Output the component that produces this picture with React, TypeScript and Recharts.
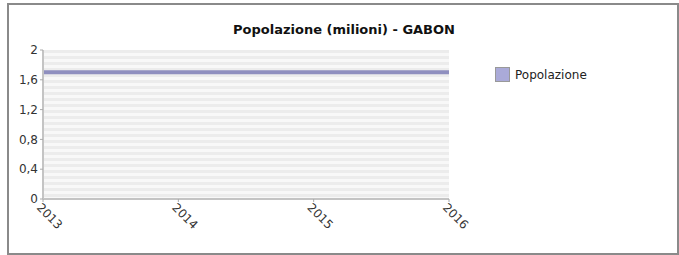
import { LineChart, Line, XAxis, YAxis, CartesianGrid } from 'recharts';

const years = [2013, 2014, 2015, 2016];
const popolazione = [1.7, 1.7, 1.7, 1.7];
const yTicks = [0, 0.4, 0.8, 1.2, 1.6, 2];

const data = years.map((anno, i) => ({ anno, popolazione: popolazione[i] }));

const FONT = '"DejaVu Sans", sans-serif';

// stripes behind the plot, one every 3px
const stripes = ({ offset }: any) => {
  const pts: number[] = [];
  for (let y = offset.top; y <= offset.top + offset.height; y += 3) pts.push(y);
  return pts;
};

const fmt = (v: number) => String(v).replace('.', ',');

const XTick = ({ x, y, payload }: any) => (
  <text
    x={x}
    y={y}
    transform={`rotate(45, ${x}, ${y})`}
    dx={-2}
    dy={8}
    textAnchor="start"
    fontSize={12}
    fontFamily={FONT}
    fill="#333"
  >
    {payload.value}
  </text>
);

export default function App() {
  return (
    <div style={{ position: 'absolute', left: 0, top: 0, width: 679, height: 255, background: '#fff' }}>
      <div
        style={{
          position: 'absolute',
          left: 7,
          top: 3,
          width: 668,
          height: 248,
          border: '2px solid #8a8a8a',
        }}
      />
      <div
        style={{
          position: 'absolute',
          left: 44,
          width: 600,
          top: 22,
          textAlign: 'center',
          fontFamily: FONT,
          fontWeight: 'bold',
          fontSize: 13,
          color: '#111',
        }}
      >
        Popolazione (milioni) - GABON
      </div>
      <div
        style={{
          position: 'absolute',
          left: 495,
          top: 67,
          display: 'flex',
          alignItems: 'center',
          fontFamily: FONT,
          fontSize: 12,
          color: '#222',
        }}
      >
        <span
          style={{
            display: 'inline-block',
            width: 13,
            height: 13,
            background: '#aaaad8',
            border: '1px solid #999',
            marginRight: 5,
          }}
        />
        Popolazione
      </div>
      <div style={{ position: 'absolute', left: 0, top: 0 }}>
        <LineChart width={679} height={255} data={data} margin={{ top: 50, right: 230, bottom: 0, left: 0 }}>
          <CartesianGrid
            vertical={false}
            horizontalCoordinatesGenerator={stripes}
            horizontalFill={['#ececec', '#f8f8f8']}
            stroke="none"
          />
          <XAxis
            dataKey="anno"
            type="number"
            domain={[2013, 2016]}
            ticks={years}
            height={56}
            tick={<XTick />}
            tickSize={3}
            axisLine={{ stroke: '#c4c4c4', strokeWidth: 2 }}
            tickLine={{ stroke: '#aaa' }}
          />
          <YAxis
            domain={[0, 2]}
            ticks={yTicks}
            width={43}
            tickFormatter={fmt}
            tickSize={3}
            tick={{ fontSize: 12, fontFamily: FONT, fill: '#333' }}
            axisLine={{ stroke: '#c4c4c4', strokeWidth: 2 }}
            tickLine={{ stroke: '#aaa' }}
          />
          <Line
            type="linear"
            dataKey="popolazione"
            stroke="#8f8fbf"
            strokeWidth={4}
            dot={false}
            isAnimationActive={false}
          />
        </LineChart>
      </div>
    </div>
  );
}
